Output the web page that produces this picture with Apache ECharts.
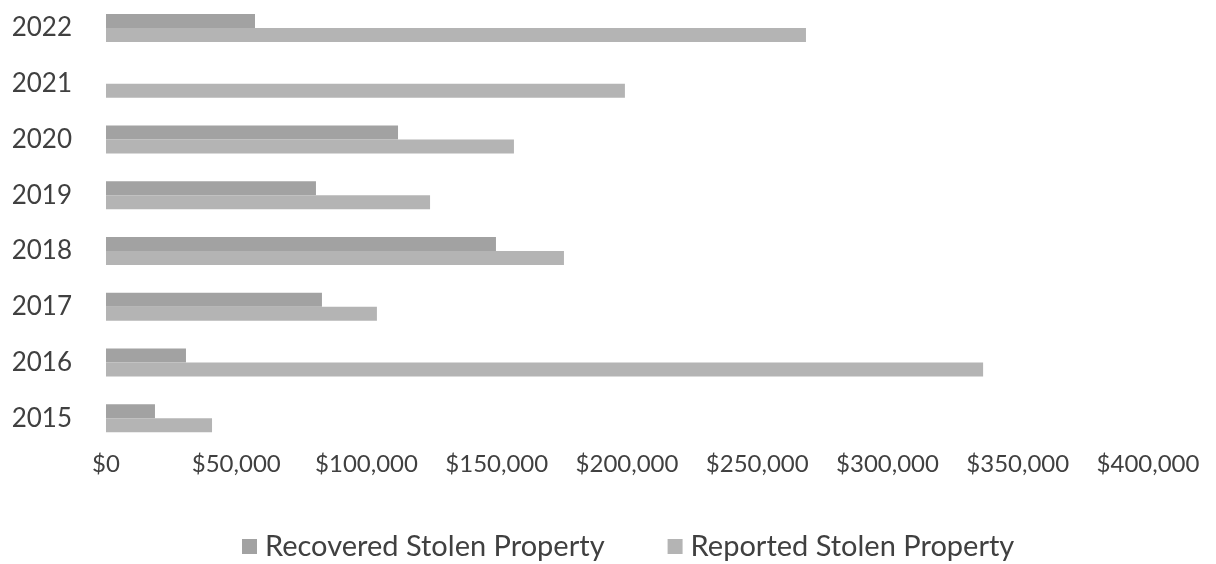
<!DOCTYPE html>
<html>
<head>
<meta charset="utf-8">
<script src="https://cdn.jsdelivr.net/npm/echarts@6/dist/echarts.min.js"></script>
<style>
  html, body { margin: 0; padding: 0; background: #ffffff; }
  #chart { width: 1216px; height: 564px; }
</style>
</head>
<body>
<div id="chart"></div>
<script>
// Stolen property by year, in dollars
const years = ['2015', '2016', '2017', '2018', '2019', '2020', '2021', '2022'];
const recovered = [18800, 30700, 82900, 149700, 80600, 112100, 0, 57200];
const reported = [40700, 336700, 104000, 175800, 124400, 156600, 199200, 268700];
const seriesNames = ['Recovered Stolen Property', 'Reported Stolen Property'];

const FONT = 'Lato, "Open Sans", sans-serif';
const TEXT = '#404040';

const chart = echarts.init(document.getElementById('chart'), null, { renderer: 'canvas' });

chart.setOption({
  animation: false,
  backgroundColor: '#ffffff',
  grid: { left: 106, right: 68, top: -3, bottom: 118, containLabel: false },
  xAxis: {
    type: 'value',
    min: 0,
    max: 400000,
    interval: 50000,
    axisLine: { show: false },
    axisTick: { show: false },
    splitLine: { show: false },
    axisLabel: {
      margin: 6,
      color: TEXT,
      fontFamily: FONT,
      fontSize: 24,
      formatter: v => '$' + v.toLocaleString('en-US')
    }
  },
  yAxis: {
    type: 'category',
    data: years,
    axisLine: { show: false },
    axisTick: { show: false },
    axisLabel: {
      margin: 34,
      color: TEXT,
      fontFamily: FONT,
      fontSize: 26
    }
  },
  legend: {
    data: seriesNames,
    bottom: -2,
    left: 237,
    itemWidth: 15,
    itemHeight: 15,
    itemGap: 63,
    icon: 'rect',
    textStyle: { color: TEXT, fontFamily: FONT, fontSize: 29, padding: [0, 0, 0, 3] }
  },
  series: [
    {
      name: seriesNames[0],
      type: 'bar',
      data: recovered,
      barWidth: 14,
      barGap: '0%',
      itemStyle: { color: '#a2a2a2' }
    },
    {
      name: seriesNames[1],
      type: 'bar',
      data: reported,
      barWidth: 14,
      barGap: '0%',
      itemStyle: { color: '#b4b4b4' }
    }
  ]
});
</script>
</body>
</html>
